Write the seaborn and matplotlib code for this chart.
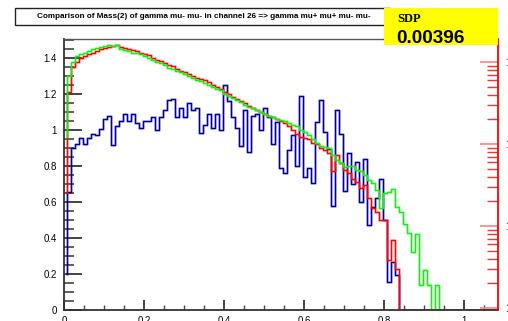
"""
Mass(2) comparison histogram, ROOT style, redrawn with seaborn
"""

import numpy as np
import matplotlib
matplotlib.use('Agg')
import matplotlib.pyplot as plt
from matplotlib.patches import Rectangle
from matplotlib.ticker import MultipleLocator, FormatStrFormatter, LogLocator, NullFormatter
import seaborn as sns

# Histogram contents (bin width 0.01, first edge 0.008)
bin_start = 0.008
bin_width = 0.01
n_bins = 108

red_vals = [1.21, 1.35, 1.38, 1.40, 1.41, 1.42, 1.43, 1.44, 1.45, 1.455,
            1.46, 1.465, 1.47, 1.46, 1.455, 1.45, 1.445, 1.44, 1.43, 1.42,
            1.415, 1.40, 1.39, 1.385, 1.37, 1.36, 1.355, 1.34, 1.33, 1.32,
            1.31, 1.30, 1.29, 1.285, 1.28, 1.265, 1.25, 1.24, 1.225, 1.21,
            1.20, 1.185, 1.17, 1.16, 1.15, 1.135, 1.12, 1.11, 1.10, 1.09,
            1.08, 1.07, 1.06, 1.05, 1.04, 1.02, 1.00, 0.98, 0.96, 0.955,
            0.95, 0.93, 0.92, 0.90, 0.89, 0.87, 0.77, 0.86, 0.815, 0.78,
            0.76, 0.73, 0.71, 0.68, 0.695, 0.62, 0.565, 0.545, 0.50, 0.50,
            0.28, 0.39, 0.23]

green_vals = [1.30, 1.38, 1.41, 1.42, 1.43, 1.44, 1.45, 1.455, 1.46, 1.465,
              1.47, 1.465, 1.47, 1.45, 1.445, 1.44, 1.43, 1.425, 1.42, 1.41,
              1.40, 1.39, 1.38, 1.37, 1.36, 1.345, 1.34, 1.33, 1.32, 1.31,
              1.30, 1.29, 1.28, 1.27, 1.26, 1.25, 1.24, 1.23, 1.22, 1.20,
              1.19, 1.18, 1.165, 1.155, 1.14, 1.13, 1.12, 1.11, 1.10, 1.09,
              1.08, 1.07, 1.06, 1.055, 1.05, 1.04, 1.03, 1.02, 1.00, 0.99,
              0.97, 0.95, 0.93, 0.91, 0.905, 0.90, 0.86, 0.835, 0.815, 0.795,
              0.80, 0.80, 0.78, 0.77, 0.75, 0.72, 0.705, 0.667, 0.565, 0.65,
              0.655, 0.67, 0.57, 0.545, 0.48, 0.43, 0.32, 0.42, 0.14, 0.22,
              0.14, 0.0, 0.14]

blue_vals = [0.655, 0.90, 0.92, 0.955, 0.92, 0.955, 0.98, 0.97, 1.005, 1.06,
             1.08, 0.915, 1.02, 1.05, 1.09, 1.05, 1.09, 1.04, 1.01, 1.05,
             1.05, 1.07, 1.0, 1.07, 1.11, 1.165, 1.17, 1.07, 1.12, 1.07,
             1.15, 1.11, 1.12, 0.985, 1.03, 1.09, 1.01, 1.09, 1.0, 1.25,
             1.16, 1.07, 1.01, 0.91, 1.11, 0.88, 1.08, 1.09, 1.0, 1.12,
             1.07, 0.92, 1.045, 0.79, 0.76, 0.89, 0.97, 0.80, 1.19, 0.74,
             0.79, 0.705, 1.045, 1.165, 0.99, 0.895, 0.58, 1.11, 0.98, 0.66,
             0.87, 0.70, 0.82, 0.60, 0.84, 0.47, 0.57, 0.62, 0.73, 0.50,
             0.155, 0.265, 0.195]

# level the outline starts from at the first edge
start_levels = {'blue': 0.2, 'red': 0.65, 'green': 0.96}

y_ticks = [0, 0.2, 0.4, 0.6, 0.8, 1.0, 1.2, 1.4]
x_ticks = [0, 0.2, 0.4, 0.6, 0.8, 1.0]

title = "Comparison of Mass(2) of gamma mu- mu- in channel 26 => gamma mu+ mu+ mu- mu-"
sdp_label = "SDP"
sdp_value = "0.00396"

edges = bin_start + bin_width * np.arange(n_bins + 1)


def step_xy(vals, start):
    v = np.zeros(n_bins)
    v[:len(vals)] = vals
    xs = np.concatenate([[edges[0]], edges[:-1], [edges[-1]]])
    ys = np.concatenate([[start], v, [v[-1]]])
    return xs, ys


plt.rcParams['font.family'] = ['Liberation Sans', 'DejaVu Sans']

fig = plt.figure(figsize=(5.08, 3.21), dpi=100)
ax = fig.add_axes([64 / 508, 1 - 310 / 321, (498 - 64) / 508, (310 - 39) / 321])

for vals, col, key in [(blue_vals, '#000099', 'blue'),
                       (red_vals, '#ff0000', 'red'),
                       (green_vals, '#10f010', 'green')]:
    xs, ys = step_xy(vals, start_levels[key])
    # soft halo like the anti-aliased original
    sns.lineplot(x=xs, y=ys, estimator=None, sort=False, drawstyle='steps-post',
                 color=col, lw=2.2, alpha=0.2, ax=ax)
    sns.lineplot(x=xs, y=ys, estimator=None, sort=False, drawstyle='steps-post',
                 color=col, lw=1.0, ax=ax)

ax.set_xlim(0, 1.085)
ax.set_ylim(0, 1.505)
ax.set_xticks(x_ticks)
ax.set_yticks(y_ticks)
ax.xaxis.set_major_formatter(FormatStrFormatter('%g'))
ax.yaxis.set_major_formatter(FormatStrFormatter('%g'))
ax.xaxis.set_minor_locator(MultipleLocator(0.05))
ax.yaxis.set_minor_locator(MultipleLocator(0.05))
ax.tick_params(axis='y', which='major', direction='in', length=13, width=1.2,
               color='#222222', labelsize=7, pad=5)
ax.tick_params(axis='y', which='minor', direction='in', length=7, width=1.2, color='#444444')
ax.tick_params(axis='x', which='major', direction='in', length=7, width=1.2,
               color='#222222', labelsize=7, pad=4)
ax.tick_params(axis='x', which='minor', direction='in', length=3.5, width=1.0, color='#444444')
ax.set_xlabel('')
ax.set_ylabel('')
for s in ['left', 'bottom']:
    ax.spines[s].set_color('#333333')
    ax.spines[s].set_linewidth(1.3)
ax.spines['top'].set_color('#555555')
ax.spines['top'].set_linewidth(1.0)
ax.spines['right'].set_visible(False)

# red log axis on the right
ax2 = ax.twinx()
ax2.set_yscale('log')
ax2.set_ylim(0.95, 1900)
ax2.yaxis.set_major_locator(LogLocator(base=10))
ax2.yaxis.set_minor_locator(LogLocator(base=10, subs=np.arange(2, 10)))
ax2.yaxis.set_minor_formatter(NullFormatter())
ax2.yaxis.set_major_formatter(FormatStrFormatter('%g'))
ax2.tick_params(axis='y', which='major', direction='in', length=13, width=1.2,
                color='#ff8080', labelsize=7, pad=5, labelcolor='#222222')
ax2.tick_params(axis='y', which='minor', direction='in', length=8, width=1.0, color='#ff3030')
for s in ['left', 'top', 'bottom']:
    ax2.spines[s].set_visible(False)
ax2.spines['right'].set_color('#ff0000')
ax2.spines['right'].set_linewidth(1.3)

# title pave
fig.add_artist(Rectangle((15 / 508, 1 - 25 / 321), 375 / 508, 17 / 321,
                         transform=fig.transFigure, facecolor='white',
                         edgecolor='#222222', lw=1.0, zorder=5))
fig.text(203.5 / 508, 1 - 16.5 / 321, title, ha='center', va='center',
         fontsize=5.85, fontweight='bold', zorder=6)

# SDP box
fig.add_artist(Rectangle((384 / 508, 1 - 45 / 321), 114 / 508, 37 / 321,
                         transform=fig.transFigure, facecolor='#ffff00',
                         edgecolor='none', zorder=5))
fig.text(397 / 508, 1 - 22 / 321, sdp_label, ha='left', va='baseline',
         fontsize=9, fontweight='bold', family=['Liberation Serif', 'DejaVu Serif'], zorder=6)
fig.text(396 / 508, 1 - 43.3 / 321, sdp_value, ha='left', va='baseline',
         fontsize=13.7, fontweight='bold', zorder=6)

plt.savefig('out.png', dpi=100)
